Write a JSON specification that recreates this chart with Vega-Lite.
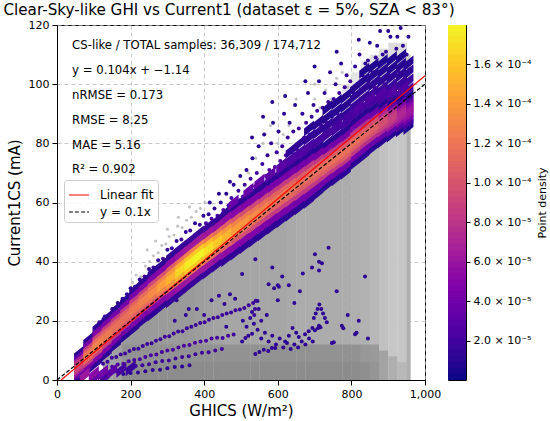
{
  "$schema": "https://vega.github.io/schema/vega-lite/v6.json",
  "background": "white",
  "padding": {"left": 2, "top": 2, "right": 0, "bottom": 0},
  "bounds": "flush",
  "spacing": 23,
  "config": {
    "font": "DejaVu Sans",
    "view": {"stroke": "black", "strokeWidth": 1},
    "axis": {
      "labelFont": "DejaVu Sans", "titleFont": "DejaVu Sans",
      "labelFontSize": 11, "titleFontSize": 15, "titleFontWeight": "normal",
      "labelColor": "black", "titleColor": "black",
      "domainColor": "black", "tickColor": "black", "tickSize": 5,
      "labelPadding": 3, "labelFlush": false, "labelOverlap": false
    }
  },
  "hconcat": [
    {
      "width": 368,
      "height": 355,
      "title": {
        "text": "Clear-Sky-like GHI vs Current1 (dataset ε = 5%, SZA < 83°)",
        "font": "DejaVu Sans", "fontSize": 15.2, "fontWeight": "normal", "color": "black",
        "anchor": "middle", "dx": -12, "offset": -11, "baseline": "alphabetic"
      },
      "layer": [
        {
          "data": {
            "values": "x,x2,y,y2,n\n125,151,0,11.3,3.2\n150,176,0,14.3,3.3\n175,201,0,6.3,4\n175,201,6,12.3,3.8\n175,201,12,17,3.5\n200,226,0,6.3,4\n200,226,6,12.3,3.8\n200,226,12,19.7,3.5\n225,251,0,6.3,4\n225,251,6,12.3,3.8\n225,251,12,22.1,3.5\n250,276,0,6.3,4\n250,276,6,12.3,3.8\n250,276,12,24.5,3.5\n275,301,0,6.3,4\n275,301,6,12.3,3.8\n275,301,12,26.7,3.5\n300,326,0,6.3,4\n300,326,6,12.3,3.8\n300,326,12,29,3.5\n325,351,0,6.3,4\n325,351,6,12.3,3.8\n325,351,12,31.5,3.5\n350,376,0,6.3,4\n350,376,6,12.3,3.8\n350,376,12,34,3.5\n375,401,0,6.3,4\n375,401,6,12.3,3.8\n375,401,12,36.3,3.4\n400,426,0,6.3,4\n400,426,6,12.3,3.8\n400,426,12,38.6,3.3\n425,451,0,6.3,4\n425,451,6,12.3,3.8\n425,451,12,40.6,3.2\n450,476,0,6.3,4\n450,476,6,12.3,3.8\n450,476,12,42.6,3.1\n475,501,0,6.3,4\n475,501,6,12.3,3.8\n475,501,12,44.8,3.1\n500,526,0,6.3,4\n500,526,6,12.3,3.8\n500,526,12,47,3.1\n525,551,0,6.3,4\n525,551,6,12.3,3.8\n525,551,12,49.2,3.1\n550,576,0,6.3,4\n550,576,6,12.3,3.8\n550,576,12,51.4,3.1\n575,601,0,6.3,4\n575,601,6,12.3,3.8\n575,601,12,53.6,3.1\n600,626,0,6.3,4\n600,626,6,12.3,3.8\n600,626,12,55.8,3.1\n625,651,0,6.3,4\n625,651,6,12.3,3.8\n625,651,12,58,3\n650,676,0,6.3,4\n650,676,6,12.3,3.8\n650,676,12,60.2,2.9\n675,701,0,6.3,4\n675,701,6,12.3,3.8\n675,701,12,62.7,2.9\n700,726,0,6.3,4\n700,726,6,12.3,3.8\n700,726,12,65.4,2.9\n725,751,0,6.3,4\n725,751,6,12.3,3.8\n725,751,12,67.8,2.9\n750,776,0,6.3,4\n750,776,6,12.3,3.8\n750,776,12,70,2.9\n775,801,0,6.3,4\n775,801,6,12.3,3.8\n775,801,12,72.8,2.9\n800,826,0,6.3,4\n800,826,6,12.3,3.8\n800,826,12,75.5,2.8\n825,851,0,6.3,3.9\n825,851,6,12.3,3.6\n825,851,12,78.1,2.7\n850,876,0,6.3,3.7\n850,876,6,12.3,3.5\n850,876,12,80.6,2.5\n875,901,0,10.3,3.2\n875,901,10,82.7,2.2\n900,926,0,8.3,2.8\n900,926,8,84.6,2\n925,951,0,6.3,2.5\n925,951,6,86,2\n950,961,0,100,2.8\n775,801,86.5,100,1\n800,826,89,104,1\n825,851,91.3,108,1\n850,876,93,110,1.2\n875,901,94,112,1.3\n900,926,95,114,1.3\n925,951,95.5,114,1.3\n950,961,96,110,1.8",
            "format": {"type": "csv", "parse": {"x": "number", "x2": "number", "y": "number", "y2": "number", "n": "number"}}
          },
          "mark": {"type": "rect", "clip": true},
          "encoding": {
            "x": {
              "field": "x", "type": "quantitative",
              "scale": {"domain": [0, 1000], "nice": false, "zero": false},
              "axis": {
                "values": [0, 200, 400, 600, 800, 1000], "format": ",.0f",
                "title": "GHICS (W/m²)", "titlePadding": 4,
                "grid": true, "gridDash": [4, 3], "gridColor": "#b0b0b0", "gridOpacity": 0.7
              }
            },
            "x2": {"field": "x2"},
            "y": {
              "field": "y", "type": "quantitative",
              "scale": {"domain": [0, 120], "nice": false, "zero": false},
              "axis": {
                "values": [0, 20, 40, 60, 80, 100, 120],
                "title": "Current1CS (mA)", "titlePadding": 6,
                "grid": true, "gridDash": [4, 3], "gridColor": "#b0b0b0", "gridOpacity": 0.7
              }
            },
            "y2": {"field": "y2"},
            "fill": {
              "field": "n", "type": "quantitative",
              "scale": {"domain": [1, 4], "range": ["#e6e6e6", "#8c8c8c"]},
              "legend": null
            }
          }
        },
        {
          "data": {
            "values": "x,y\n205,33\n215,35.5\n228,35\n240,38.5\n252,40\n262,42\n275,43\n285,45.5\n296,46\n305,48.5\n318,49\n328,52\n340,51.5\n352,54\n365,55\n378,57\n390,58\n402,60\n245,44\n268,47\n300,51\n330,55\n360,58.5\n600,80\n615,83\n630,86\n650,80\n665,90\n680,85\n700,95\n715,92\n730,98\n745,95\n760,102\n775,104\n790,99\n650,95\n700,100\n540,75\n560,80\n520,70\n580,86",
            "format": {"type": "csv", "parse": {"x": "number", "y": "number"}}
          },
          "mark": {"type": "circle", "size": 10, "color": "#bdbdbd", "opacity": 0.9, "clip": true},
          "encoding": {
            "x": {"field": "x", "type": "quantitative"},
            "y": {"field": "y", "type": "quantitative"}
          }
        },
        {
          "data": {
            "values": "x,y,d\n405,53,2e-5\n412,56,1e-5\n420,54.5,2.5e-5\n428,58,1e-5\n436,55.5,2e-5\n445,60,1e-5\n452,57.5,2.5e-5\n460,63,0.8e-5\n466,59,2e-5\n474,61.5,1.5e-5\n480,66,0.8e-5\n487,60.5,2.5e-5\n493,64,1.5e-5\n498,69,0.8e-5\n470,67,0.8e-5\n440,63,0.8e-5\n415,60,0.8e-5\n505,62,2.5e-5\n510,66,1.5e-5\n515,71,0.8e-5\n520,63.5,2.5e-5\n526,68,1.5e-5\n531,75,0.8e-5\n538,65.5,2.5e-5\n543,70,1.5e-5\n548,79,0.8e-5\n553,67,2.5e-5\n558,73,1.5e-5\n563,83,0.8e-5\n568,69,2.5e-5\n572,76,1.2e-5\n577,71,2e-5\n582,80,1e-5\n587,87,0.7e-5\n592,72,2.5e-5\n597,77,1.5e-5\n602,84,1e-5\n607,74,2.5e-5\n612,79,1.5e-5\n617,90,0.7e-5\n622,76,2.5e-5\n627,82,1.5e-5\n632,87,1e-5\n637,77,2.5e-5\n642,84,1.5e-5\n647,93,0.7e-5\n560,89,0.7e-5\n530,82,0.7e-5\n585,94,0.7e-5\n620,96,0.7e-5\n652,78,2.5e-5\n657,85,1.5e-5\n662,80,2.5e-5\n667,90,1e-5\n672,82,2.5e-5\n677,87,1.5e-5\n682,97,0.8e-5\n687,83,2.5e-5\n692,89,1.5e-5\n697,93,1e-5\n702,84,2.5e-5\n707,91,1.5e-5\n712,101,0.8e-5\n717,86,2.5e-5\n722,92,1.5e-5\n727,97,1e-5\n732,87,2.5e-5\n737,94,1.5e-5\n742,104,0.8e-5\n747,89,2.5e-5\n752,95,1.5e-5\n757,100,1e-5\n762,90,2.5e-5\n767,97,1.5e-5\n772,107,0.8e-5\n777,92,2.5e-5\n782,99,1.5e-5\n787,103,1e-5\n792,94,2.5e-5\n797,101,1.5e-5\n700,106,0.7e-5\n760,111,0.7e-5\n675,101,0.7e-5\n802,91,3e-5\n806,97,2e-5\n810,106,1e-5\n814,93,3e-5\n818,100,2e-5\n822,110,0.8e-5\n826,95,3e-5\n830,103,1.5e-5\n834,98,2.5e-5\n838,107,1e-5\n842,96,3e-5\n846,101,2e-5\n850,114,0.7e-5\n854,97,3e-5\n858,104,1.5e-5\n862,99,2.5e-5\n866,109,1e-5\n870,97,3e-5\n874,102,2e-5\n878,118,0.7e-5\n882,98,3e-5\n886,105,1.5e-5\n890,100,2.5e-5\n894,111,1e-5\n898,98,3e-5\n902,103,2e-5\n906,116,0.7e-5\n910,99,3e-5\n914,106,1.5e-5\n918,101,2.5e-5\n922,112,1e-5\n926,99,3e-5\n930,104,2e-5\n934,119,0.7e-5\n938,100,3e-5\n942,107,1.5e-5\n946,102,2.5e-5\n950,110,1e-5\n954,99,3e-5\n957,105,2e-5\n870,113,0.8e-5\n900,118,0.7e-5\n925,116,0.8e-5\n820,115,0.7e-5\n845,108,1.2e-5\n885,110,1e-5\n940,113,1e-5\n955,116,0.8e-5\n115,19.5,1.5e-5\n130,21.5,1.5e-5\n150,24,1.5e-5\n165,26,1e-5\n178,27.5,1.5e-5\n190,29,1e-5\n200,31,0.8e-5\n205,28.5,2e-5\n212,31.5,1.5e-5\n225,34,1e-5\n238,35,1.5e-5\n250,37.5,1e-5\n262,38,1.5e-5\n275,40.5,1e-5\n288,41,1.5e-5\n290,37.5,2e-5\n300,44,1e-5\n312,44.5,1.5e-5\n325,47,1e-5\n338,47.5,1.5e-5\n350,50,1e-5\n362,50.5,1.5e-5\n375,53,1e-5\n388,52.5,1.5e-5\n398,55.5,1e-5\n125,5.5,1.5e-5\n137,6.2,1.5e-5\n149,7.5,1.5e-5\n161,7.8,1.5e-5\n173,8.6,1.5e-5\n185,9,1.5e-5\n197,9.8,1.5e-5\n209,10.5,1.5e-5\n221,10.6,1.5e-5\n233,11.5,1.5e-5\n245,12.2,1.5e-5\n257,12.4,1.5e-5\n269,13.3,1.5e-5\n281,13.8,1.5e-5\n293,14.6,1.5e-5\n305,14.8,1.5e-5\n317,15.7,1.5e-5\n329,16.4,1.5e-5\n341,16.5,1.5e-5\n353,17.5,1.5e-5\n365,18,1.5e-5\n377,18.6,1.5e-5\n389,19.3,1.5e-5\n401,19.5,1.5e-5\n413,20.4,1.5e-5\n425,21,1.5e-5\n437,21.2,1.5e-5\n449,22,1.5e-5\n461,22.5,1.5e-5\n473,22.8,1.5e-5\n485,23.6,1.5e-5\n497,23.8,1.5e-5\n509,24.3,1.5e-5\n521,25.3,1.5e-5\n533,26,1.5e-5\n540,26.8,1.5e-5\n538,24,1.5e-5\n536,22,1.5e-5\n150,4.5,2e-5\n165,5.2,2e-5\n180,5.5,2e-5\n195,6.3,2e-5\n210,6.8,2e-5\n225,7,2e-5\n240,7.8,2e-5\n255,8.4,2e-5\n270,8.6,2e-5\n285,9.5,2e-5\n300,10,2e-5\n315,10.2,2e-5\n330,11,2e-5\n345,11.6,2e-5\n360,11.8,2e-5\n375,12.6,2e-5\n390,13,2e-5\n405,13.3,2e-5\n420,14,2e-5\n435,14.3,2e-5\n450,14.2,2e-5\n465,15,2e-5\n480,15.4,2e-5\n160,3,1.5e-5\n178,3.6,1.5e-5\n196,4,1.5e-5\n214,4.7,1.5e-5\n232,5,1.5e-5\n250,5.3,1.5e-5\n268,6,1.5e-5\n286,6.4,1.5e-5\n304,6.6,1.5e-5\n322,7.3,1.5e-5\n340,7.8,1.5e-5\n358,8,1.5e-5\n376,8.7,1.5e-5\n394,9.2,1.5e-5\n412,9.4,1.5e-5\n430,10,1.5e-5\n448,10.5,1.5e-5\n180,2,1e-5\n200,2.4,1e-5\n220,2.5,1e-5\n240,3,1e-5\n260,3.4,1e-5\n280,3.5,1e-5\n300,4,1e-5\n320,4.4,1e-5\n340,4.6,1e-5\n360,5,1e-5\n420,27,1e-5\n440,28.5,1e-5\n455,25.7,1e-5\n470,29,1e-5\n484,27.5,1e-5\n503,35.8,1e-5\n575,32.4,1e-5\n590,31,1e-5\n600,32,1e-5\n539,40.8,1e-5\n530,23,1e-5\n545,26.7,1e-5\n548,24,1e-5\n460,18,1e-5\n380,24,1e-5\n400,22,1e-5\n320,20,1e-5\n350,22,1e-5\n325,27,1e-5\n345,30,1e-5\n358,24,1e-5\n738,44.7,1e-5\n701,42.5,1e-5\n712,37,1e-5\n712,40,1e-5\n693,38,1e-5\n720,39.5,1e-5\n837,35,1e-5\n603,31.5,1e-5\n698,21,1e-5\n703,22.5,1e-5\n708,24,1e-5\n713,25.5,1e-5\n718,24,1e-5\n723,22.5,1e-5\n728,21,1e-5\n733,19.5,1e-5\n712,18.3,1e-5\n716,17.8,1e-5\n709,17.5,1e-5\n774,18.3,1e-5\n778,17.5,1e-5\n810,15.5,1e-5\n814,16,1e-5\n747,12.5,1e-5\n752,12.8,1e-5\n674,15.5,1e-5\n684,16.5,1e-5\n694,17.6,1e-5\n701,16.8,1e-5\n620,13,1e-5\n630,15,1e-5\n640,17.6,1e-5\n650,16,1e-5\n657,14.5,1e-5\n593,10.8,1e-5\n539,8.8,1e-5\n550,9.5,1e-5\n562,10.2,1e-5\n574,9.8,1e-5\n584,10.8,1e-5\n503,13,1e-5\n512,14.2,1e-5\n520,15,1e-5\n530,15.6,1e-5\n645,26,1e-5\n660,30,1e-5\n630,32,1e-5\n600,27,1e-5\n570,22,1e-5\n555,20,1e-5\n760,30,1e-5\n790,22,1e-5\n820,20,1e-5\n845,14,1e-5\n668,36,1e-5\n612,35,1e-5\n585,38,1e-5\n505,20,1e-5\n515,18,1e-5\n525,21,1e-5\n535,19,1e-5\n545,17,1e-5\n555,14,1e-5\n565,16,1e-5\n575,13,1e-5\n585,15,1e-5\n595,12,1e-5\n605,14,1e-5\n615,11,1e-5\n625,12.5,1e-5\n635,10.5,1e-5\n645,12,1e-5\n655,11,1e-5\n665,13,1e-5\n675,12,1e-5\n685,14,1e-5\n695,13,1e-5",
            "format": {"type": "csv", "parse": {"x": "number", "y": "number", "d": "number"}}
          },
          "mark": {"type": "circle", "size": 16, "opacity": 1, "clip": true},
          "encoding": {
            "x": {"field": "x", "type": "quantitative"},
            "y": {"field": "y", "type": "quantitative"},
            "color": {
              "field": "d", "type": "quantitative",
              "scale": {"scheme": "plasma", "domain": [0, 0.00018]},
              "legend": null
            }
          }
        },
        {
          "data": {
            "values": "x,y,d\n60,1,0.7e-5\n60,2.2,3.2e-5\n60,3.4,6.3e-5\n60,4.2,8.1e-5\n60,5,9e-5\n60,5.8,8.1e-5\n60,6.6,6.3e-5\n60,7.8,3.2e-5\n60,9,0.7e-5\n85,3.5,1e-5\n85,5,4.2e-5\n85,6.5,8.4e-5\n85,7.5,10.8e-5\n85,8.5,12e-5\n85,9.5,10.8e-5\n85,10.5,8.4e-5\n85,12,4.2e-5\n85,13.5,1e-5\n110,6,1e-5\n110,7.8,4.4e-5\n110,9.6,8.8e-5\n110,10.8,11.3e-5\n110,12,12.5e-5\n110,13.2,11.3e-5\n110,14.4,8.8e-5\n110,16.2,4.4e-5\n110,18,1e-5\n135,9,1e-5\n135,10.8,4.2e-5\n135,12.6,8.4e-5\n135,13.8,10.8e-5\n135,15,12e-5\n135,16.2,10.8e-5\n135,17.4,8.4e-5\n135,19.2,4.2e-5\n135,21,1e-5\n160,12,0.9e-5\n160,13.8,4e-5\n160,15.6,8.1e-5\n160,16.8,10.4e-5\n160,18,11.5e-5\n160,19.2,10.4e-5\n160,20.4,8.1e-5\n160,22.2,4e-5\n160,24,0.9e-5\n185,15,0.9e-5\n185,16.8,4e-5\n185,18.6,8.1e-5\n185,19.8,10.4e-5\n185,21,11.5e-5\n185,22.2,10.4e-5\n185,23.4,8.1e-5\n185,25.2,4e-5\n185,27,0.9e-5\n210,17.5,1e-5\n210,19.4,4.2e-5\n210,21.4,8.4e-5\n210,22.7,10.8e-5\n210,24,12e-5\n210,25.3,10.8e-5\n210,26.6,8.4e-5\n210,28.6,4.2e-5\n210,30.5,1e-5\n235,20.3,1e-5\n235,22.2,4.4e-5\n235,24.2,8.8e-5\n235,25.5,11.3e-5\n235,26.8,12.5e-5\n235,28.1,11.3e-5\n235,29.4,8.8e-5\n235,31.4,4.4e-5\n235,33.3,1e-5\n260,22.5,1e-5\n260,24.6,4.6e-5\n260,26.7,9.1e-5\n260,28.1,11.7e-5\n260,29.5,13e-5\n260,30.9,11.7e-5\n260,32.3,9.1e-5\n260,34.4,4.6e-5\n260,36.5,1e-5\n285,25,1.1e-5\n285,27.1,4.9e-5\n285,29.2,9.8e-5\n285,30.6,12.6e-5\n285,32,14e-5\n285,33.4,12.6e-5\n285,34.8,9.8e-5\n285,36.9,4.9e-5\n285,39,1.1e-5\n310,27,1.2e-5\n310,29.2,5.3e-5\n310,31.5,10.5e-5\n310,33,13.5e-5\n310,34.5,15e-5\n310,36,13.5e-5\n310,37.5,10.5e-5\n310,39.8,5.3e-5\n310,42,1.2e-5\n335,29.5,1.3e-5\n335,31.7,5.8e-5\n335,34,11.6e-5\n335,35.5,14.9e-5\n335,37,16.5e-5\n335,38.5,14.9e-5\n335,40,11.6e-5\n335,42.3,5.8e-5\n335,44.5,1.3e-5\n360,32,1.4e-5\n360,34.2,6.1e-5\n360,36.5,12.3e-5\n360,38,15.8e-5\n360,39.5,17.5e-5\n360,41,15.8e-5\n360,42.5,12.3e-5\n360,44.8,6.1e-5\n360,47,1.4e-5\n385,34.5,1.4e-5\n385,36.7,6.2e-5\n385,39,12.5e-5\n385,40.5,16e-5\n385,42,17.8e-5\n385,43.5,16e-5\n385,45,12.5e-5\n385,47.3,6.2e-5\n385,49.5,1.4e-5\n410,36.7,1.4e-5\n410,38.9,6e-5\n410,41.2,11.9e-5\n410,42.7,15.3e-5\n410,44.2,17e-5\n410,45.7,15.3e-5\n410,47.2,11.9e-5\n410,49.5,6e-5\n410,51.7,1.4e-5\n435,39,1.3e-5\n435,41.2,5.6e-5\n435,43.5,11.2e-5\n435,45,14.4e-5\n435,46.5,16e-5\n435,48,14.4e-5\n435,49.5,11.2e-5\n435,51.8,5.6e-5\n435,54,1.3e-5\n460,40.8,1.2e-5\n460,43.2,5.3e-5\n460,45.6,10.5e-5\n460,47.2,13.5e-5\n460,48.8,15e-5\n460,50.4,13.5e-5\n460,52,10.5e-5\n460,54.4,5.3e-5\n460,56.8,1.2e-5\n485,43,1.1e-5\n485,45.4,4.9e-5\n485,47.8,9.8e-5\n485,49.4,12.6e-5\n485,51,14e-5\n485,52.6,12.6e-5\n485,54.2,9.8e-5\n485,56.6,4.9e-5\n485,59,1.1e-5\n510,45.2,1.1e-5\n510,47.6,4.7e-5\n510,50,9.5e-5\n510,51.6,12.2e-5\n510,53.2,13.5e-5\n510,54.8,12.2e-5\n510,56.4,9.5e-5\n510,58.8,4.7e-5\n510,61.2,1.1e-5\n535,47.4,1e-5\n535,49.8,4.6e-5\n535,52.2,9.1e-5\n535,53.8,11.7e-5\n535,55.4,13e-5\n535,57,11.7e-5\n535,58.6,9.1e-5\n535,61,4.6e-5\n535,63.4,1e-5\n560,49.6,1e-5\n560,52,4.4e-5\n560,54.4,8.8e-5\n560,56,11.3e-5\n560,57.6,12.5e-5\n560,59.2,11.3e-5\n560,60.8,8.8e-5\n560,63.2,4.4e-5\n560,65.6,1e-5\n585,51.8,1e-5\n585,54.2,4.2e-5\n585,56.6,8.4e-5\n585,58.2,10.8e-5\n585,59.8,12e-5\n585,61.4,10.8e-5\n585,63,8.4e-5\n585,65.4,4.2e-5\n585,67.8,1e-5\n610,54,1e-5\n610,56.4,4.2e-5\n610,58.8,8.4e-5\n610,60.4,10.8e-5\n610,62,12e-5\n610,63.6,10.8e-5\n610,65.2,8.4e-5\n610,67.6,4.2e-5\n610,70,1e-5\n635,56.2,1e-5\n635,58.6,4.2e-5\n635,61,8.4e-5\n635,62.6,10.8e-5\n635,64.2,12e-5\n635,65.8,10.8e-5\n635,67.4,8.4e-5\n635,69.8,4.2e-5\n635,72.2,1e-5\n660,58.4,0.9e-5\n660,60.8,4e-5\n660,63.2,8.1e-5\n660,64.8,10.4e-5\n660,66.4,11.5e-5\n660,68,10.4e-5\n660,69.6,8.1e-5\n660,72,4e-5\n660,74.4,0.9e-5\n685,60.6,0.9e-5\n685,63,4e-5\n685,65.4,8.1e-5\n685,67,10.4e-5\n685,68.6,11.5e-5\n685,70.2,10.4e-5\n685,71.8,8.1e-5\n685,74.2,4e-5\n685,76.6,0.9e-5\n710,63.3,0.9e-5\n710,65.5,4e-5\n710,67.8,8.1e-5\n710,69.3,10.4e-5\n710,70.8,11.5e-5\n710,72.3,10.4e-5\n710,73.8,8.1e-5\n710,76.1,4e-5\n710,78.3,0.9e-5\n735,66,0.9e-5\n735,68.1,4e-5\n735,70.2,8.1e-5\n735,71.6,10.4e-5\n735,73,11.5e-5\n735,74.4,10.4e-5\n735,75.8,8.1e-5\n735,77.9,4e-5\n735,80,0.9e-5\n760,68.2,0.9e-5\n760,70.3,4e-5\n760,72.4,8.1e-5\n760,73.8,10.4e-5\n760,75.2,11.5e-5\n760,76.6,10.4e-5\n760,78,8.1e-5\n760,80.1,4e-5\n760,82.2,0.9e-5\n785,70.4,0.9e-5\n785,72.5,4e-5\n785,74.6,8.1e-5\n785,76,10.4e-5\n785,77.4,11.5e-5\n785,78.8,10.4e-5\n785,80.2,8.1e-5\n785,82.3,4e-5\n785,84.4,0.9e-5\n810,73.5,0.9e-5\n810,75.6,4e-5\n810,77.7,8.1e-5\n810,79.1,10.4e-5\n810,80.5,11.5e-5\n810,81.9,10.4e-5\n810,83.3,8.1e-5\n810,85.4,4e-5\n810,87.5,0.9e-5\n835,76,0.9e-5\n835,78.1,3.9e-5\n835,80.2,7.7e-5\n835,81.6,9.9e-5\n835,83,11e-5\n835,84.4,9.9e-5\n835,85.8,7.7e-5\n835,87.9,3.9e-5\n835,90,0.9e-5\n860,78.7,0.8e-5\n860,80.6,3.7e-5\n860,82.6,7.4e-5\n860,83.9,9.5e-5\n860,85.2,10.5e-5\n860,86.5,9.5e-5\n860,87.8,7.4e-5\n860,89.8,3.7e-5\n860,91.7,0.8e-5\n885,81,0.8e-5\n885,82.8,3.3e-5\n885,84.6,6.7e-5\n885,85.8,8.6e-5\n885,87,9.5e-5\n885,88.2,8.6e-5\n885,89.4,6.7e-5\n885,91.2,3.3e-5\n885,93,0.8e-5\n910,83,0.7e-5\n910,84.6,3e-5\n910,86.3,6e-5\n910,87.4,7.7e-5\n910,88.5,8.5e-5\n910,89.6,7.7e-5\n910,90.7,6e-5\n910,92.4,3e-5\n910,94,0.7e-5\n935,84.8,0.6e-5\n935,86.3,2.5e-5\n935,87.8,4.9e-5\n935,88.8,6.3e-5\n935,89.8,7e-5\n935,90.8,6.3e-5\n935,91.8,4.9e-5\n935,93.3,2.5e-5\n935,94.8,0.6e-5\n955,85.5,0.5e-5\n955,87,2.1e-5\n955,88.5,4.2e-5\n955,89.5,5.4e-5\n955,90.5,6e-5\n955,91.5,5.4e-5\n955,92.5,4.2e-5\n955,94,2.1e-5\n955,95.5,0.5e-5\n480,60,3.5e-5\n520,64,3.5e-5\n550,67,3.5e-5\n580,69.5,3e-5\n610,72,3e-5\n640,74.5,2.5e-5\n670,77,2.5e-5\n700,80,2e-5\n730,83,2e-5\n760,86,2e-5\n790,89,2e-5\n820,92,2.5e-5\n850,95,2.5e-5\n880,96.5,2.5e-5\n910,97.5,2.5e-5\n940,98.5,2.5e-5\n610,72.5,2e-5\n635,74.7,2e-5\n635,77.5,1e-5\n660,77,2e-5\n660,80,1.2e-5\n685,79.1,2e-5\n685,82,1.2e-5\n685,85,0.8e-5\n710,81,2e-5\n710,84,1.2e-5\n710,87,0.8e-5\n735,83,2e-5\n735,86,1.2e-5\n735,89,0.8e-5\n735,92,0.7e-5\n760,85,2e-5\n760,88,1.2e-5\n760,91,0.8e-5\n760,94,0.7e-5\n785,87,2e-5\n785,90,1.2e-5\n785,93,0.8e-5\n785,96,0.7e-5\n810,90,2e-5\n810,93,1.5e-5\n810,96,1e-5\n810,99,0.8e-5\n835,92.5,2e-5\n835,95.5,1.5e-5\n835,98.5,1e-5\n835,101.5,0.8e-5\n835,104.5,0.6e-5\n860,94.2,2e-5\n860,97.2,1.5e-5\n860,100.2,1e-5\n860,103.2,0.8e-5\n860,106.2,0.6e-5\n885,95.5,2e-5\n885,98.5,1.5e-5\n885,101.5,1e-5\n885,104.5,0.8e-5\n885,107.5,0.6e-5\n910,96.5,2e-5\n910,99.5,1.5e-5\n910,102.5,1e-5\n910,105.5,0.8e-5\n910,108.5,0.6e-5\n935,97.3,2e-5\n935,100.3,1.5e-5\n935,103.3,1e-5\n935,106.3,0.8e-5\n935,109.3,0.6e-5\n955,98,2e-5\n955,101,1.5e-5\n955,104,1e-5\n955,107,0.8e-5\n75,1.5,6e-5\n100,2,5e-5\n125,2.5,4e-5\n150,3,3e-5\n175,3.5,2e-5\n200,4,1.5e-5\n100,0.5,3e-5\n130,0.8,2e-5",
            "format": {"type": "csv", "parse": {"x": "number", "y": "number", "d": "number"}}
          },
          "mark": {"type": "point", "shape": "M -1 0 L 1 -1.6 L 1 0 L -1 1.6 Z", "size": 100, "filled": true, "opacity": 1, "strokeWidth": 0, "clip": true},
          "encoding": {
            "x": {"field": "x", "type": "quantitative"},
            "y": {"field": "y", "type": "quantitative"},
            "color": {
              "field": "d", "type": "quantitative",
              "scale": {"scheme": "plasma", "domain": [0, 0.00018]},
              "legend": null
            },
            "order": {"field": "d", "type": "quantitative"}
          }
        },
        {
          "data": {
            "values": [
              {"name": "Linear fit", "x": 11, "y": 0},
              {"name": "Linear fit", "x": 1000, "y": 102.86},
              {"name": "y = 0.1x", "x": 0, "y": 0},
              {"name": "y = 0.1x", "x": 1000, "y": 100}
            ]
          },
          "mark": {"type": "line", "strokeWidth": 1.2},
          "encoding": {
            "x": {"field": "x", "type": "quantitative"},
            "y": {"field": "y", "type": "quantitative"},
            "stroke": {
              "field": "name", "type": "nominal",
              "scale": {"domain": ["Linear fit", "y = 0.1x"], "range": ["#ff0000", "#000000"]},
              "legend": {
                "orient": "none", "legendX": 7, "legendY": 155, "title": null,
                "labelFont": "DejaVu Sans", "labelFontSize": 12, "labelColor": "black",
                "symbolType": "stroke", "symbolSize": 400, "symbolStrokeWidth": 1.2,
                "fillColor": "rgba(255,255,255,0.85)", "strokeColor": "#cccccc",
                "cornerRadius": 3, "padding": 4, "rowPadding": 0, "labelOffset": 10
              }
            },
            "strokeDash": {
              "field": "name", "type": "nominal",
              "scale": {"domain": ["Linear fit", "y = 0.1x"], "range": [[1, 0], [4, 2]]},
              "legend": {
                "orient": "none", "legendX": 7, "legendY": 155, "title": null,
                "labelFont": "DejaVu Sans", "labelFontSize": 12, "labelColor": "black",
                "symbolType": "stroke", "symbolSize": 400, "symbolStrokeWidth": 1.2,
                "fillColor": "rgba(255,255,255,0.85)", "strokeColor": "#cccccc",
                "cornerRadius": 3, "padding": 4, "rowPadding": 0, "labelOffset": 10
              }
            }
          }
        },
        {
          "data": {
            "values": [
              {"label": "CS-like / TOTAL samples: 36,309 / 174,712", "y": 113.2},
              {"label": "y = 0.104x + −1.14", "y": 104.8},
              {"label": "nRMSE = 0.173", "y": 96.4},
              {"label": "RMSE = 8.25", "y": 88},
              {"label": "MAE = 5.16", "y": 79.6},
              {"label": "R² = 0.902", "y": 71.2}
            ]
          },
          "mark": {"type": "text", "align": "left", "baseline": "middle", "font": "DejaVu Sans", "fontSize": 11.7, "color": "black"},
          "encoding": {
            "x": {"datum": 41, "type": "quantitative"},
            "y": {"field": "y", "type": "quantitative"},
            "text": {"field": "label"}
          }
        }
      ]
    },
    {
      "width": 18,
      "height": 355,
      "data": {
        "values": "lo,hi\n0,3.5e-6\n3e-6,6.5e-6\n6e-6,9.5e-6\n9e-6,12.5e-6\n12e-6,15.5e-6\n15e-6,18.5e-6\n18e-6,21.5e-6\n21e-6,24.5e-6\n24e-6,27.5e-6\n27e-6,30.5e-6\n30e-6,33.5e-6\n33e-6,36.5e-6\n36e-6,39.5e-6\n39e-6,42.5e-6\n42e-6,45.5e-6\n45e-6,48.5e-6\n48e-6,51.5e-6\n51e-6,54.5e-6\n54e-6,57.5e-6\n57e-6,60.5e-6\n60e-6,63.5e-6\n63e-6,66.5e-6\n66e-6,69.5e-6\n69e-6,72.5e-6\n72e-6,75.5e-6\n75e-6,78.5e-6\n78e-6,81.5e-6\n81e-6,84.5e-6\n84e-6,87.5e-6\n87e-6,90.5e-6\n90e-6,93.5e-6\n93e-6,96.5e-6\n96e-6,99.5e-6\n99e-6,102.5e-6\n102e-6,105.5e-6\n105e-6,108.5e-6\n108e-6,111.5e-6\n111e-6,114.5e-6\n114e-6,117.5e-6\n117e-6,120.5e-6\n120e-6,123.5e-6\n123e-6,126.5e-6\n126e-6,129.5e-6\n129e-6,132.5e-6\n132e-6,135.5e-6\n135e-6,138.5e-6\n138e-6,141.5e-6\n141e-6,144.5e-6\n144e-6,147.5e-6\n147e-6,150.5e-6\n150e-6,153.5e-6\n153e-6,156.5e-6\n156e-6,159.5e-6\n159e-6,162.5e-6\n162e-6,165.5e-6\n165e-6,168.5e-6\n168e-6,171.5e-6\n171e-6,174.5e-6\n174e-6,177.5e-6\n177e-6,180.5e-6",
        "format": {"type": "csv", "parse": {"lo": "number", "hi": "number"}}
      },
      "mark": {"type": "rect", "clip": true},
      "encoding": {
        "x": {"value": 0},
        "x2": {"value": "width"},
        "y": {
          "field": "lo", "type": "quantitative",
          "scale": {"domain": [0, 0.00018], "nice": false, "zero": false},
          "axis": {
            "orient": "right",
            "values": [0.00002, 0.00004, 0.00006, 0.00008, 0.0001, 0.00012, 0.00014, 0.00016],
            "labelExpr": "datum.value < 0.000099 ? format(datum.value * 100000, '.1f') + ' × 10⁻⁵' : format(datum.value * 10000, '.1f') + ' × 10⁻⁴'",
            "title": "Point density", "titleFontSize": 11, "titleAngle": 270, "titleBaseline": "top",
            "titlePadding": 6, "tickSize": 4, "grid": false, "domain": false
          }
        },
        "y2": {"field": "hi"},
        "color": {
          "field": "lo", "type": "quantitative",
          "scale": {"scheme": "plasma", "domain": [0, 0.00018]},
          "legend": null
        }
      }
    }
  ]
}
